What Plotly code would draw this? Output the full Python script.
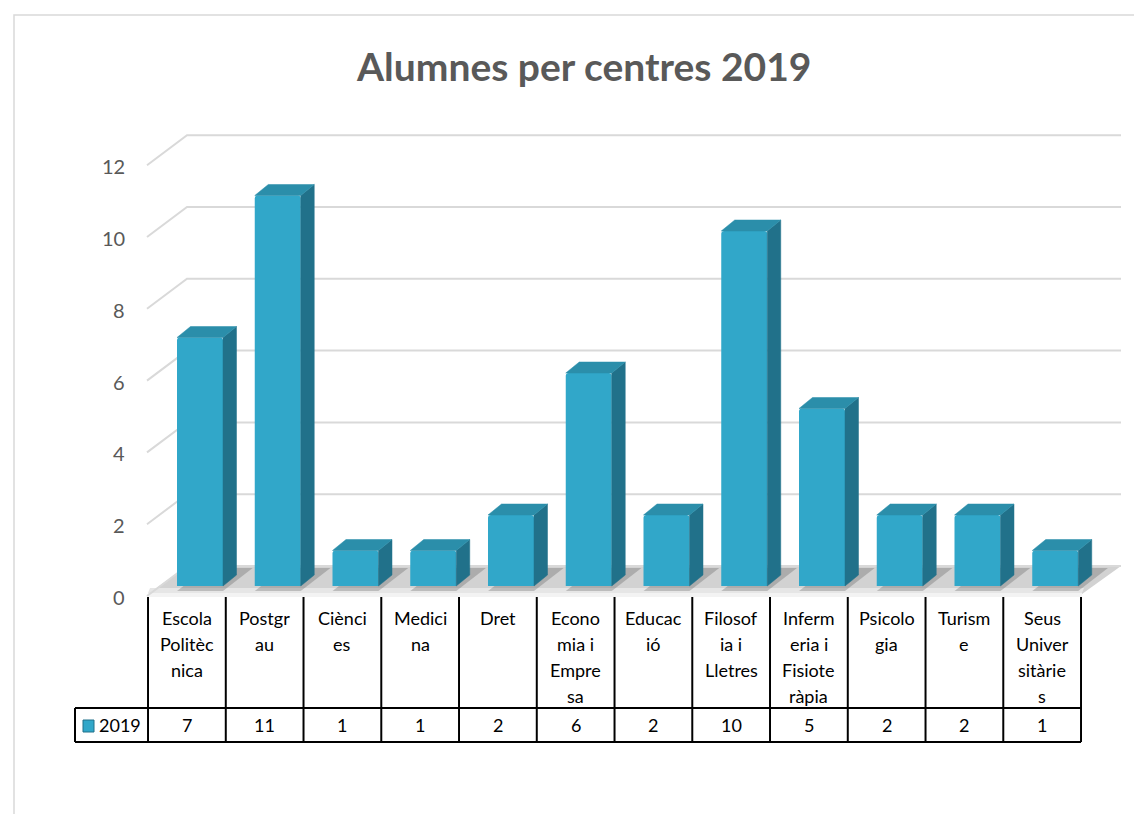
import plotly.graph_objects as go

# data
categories = ["Escola Politècnica", "Postgrau", "Ciències", "Medicina", "Dret",
              "Economia i Empresa", "Educació", "Filosofia i Lletres",
              "Infermeria i Fisioteràpia", "Psicologia", "Turisme", "Seus Universitàries"]
tick_labels = ["Escola<br>Politèc<br>nica", "Postgr<br>au", "Ciènci<br>es", "Medici<br>na", "Dret",
               "Econo<br>mia i<br>Empre<br>sa", "Educac<br>ió", "Filosof<br>ia i<br>Lletres",
               "Inferm<br>eria i<br>Fisiote<br>ràpia", "Psicolo<br>gia", "Turism<br>e",
               "Seus<br>Univer<br>sitàrie<br>s"]
values_2019 = [7, 11, 1, 1, 2, 6, 2, 10, 5, 2, 2, 1]
series_name = "2019"
y_ticks = [0, 2, 4, 6, 8, 10, 12]
title = "Alumnes per centres 2019"

W, H = 1142, 814
PAGE = 8             # browser body margin
FONT = "Lato"

# screen pixel -> data helpers (whole figure is one plot area)
PXU = 77.75          # px per category
X0 = 186.9           # pixel of category 0 centre
PYU = 35.5           # px per unit
Y0 = 586.0           # pixel of value 0


def dx(p):
    return (p - X0) / PXU


def dy(p):
    return (Y0 - p) / PYU


n = len(categories)
xs = list(range(n))
off = dx(200)          # bar shifted back in depth
bw = 46 / PXU
ddx = 13.5 / PXU
ddy = 11 / PYU

front = "#31a7c9"
side = "#21718a"
top = "#2b8eaa"

fig = go.Figure()

fig.add_trace(go.Bar(x=[x + off for x in xs], y=values_2019, width=bw,
                     marker=dict(color=front, line=dict(width=0), cornerradius=3),
                     name=series_name, hoverinfo="skip"))

# 3D side and top faces
sx, sy, tx, ty = [], [], [], []
for x, v in zip(xs, values_2019):
    l, r = x + off - bw / 2, x + off + bw / 2
    sx += [r, r + ddx, r + ddx, r, r, None]
    sy += [0, ddy, v + ddy, v, 0, None]
    tx += [l, l + ddx, r + ddx, r, l, None]
    ty += [v, v + ddy, v + ddy, v, v, None]
fig.add_trace(go.Scatter(x=sx, y=sy, fill="toself", fillcolor=side, mode="lines",
                         line=dict(width=0.5, color=side), hoverinfo="skip", showlegend=False))
fig.add_trace(go.Scatter(x=tx, y=ty, fill="toself", fillcolor=top, mode="lines",
                         line=dict(width=0.5, color=top), hoverinfo="skip", showlegend=False))

shapes = []
annotations = []

# floor
fl, fr = dx(148), dx(1082)
bl, br = dx(187), dx(1121)
shapes.append(dict(type="path", xref="x", yref="y", layer="below",
                   path=f"M{fl},{dy(594)} L{bl},{dy(566)} L{br},{dy(566)} L{fr},{dy(594)} Z",
                   fillcolor="#d2d2d2", line=dict(width=0)))
shapes.append(dict(type="path", xref="x", yref="y", layer="below",
                   path=f"M{dx(150)},{dy(588)} L{dx(1084)},{dy(588)} L{fr},{dy(593)} L{fl},{dy(593)} Z",
                   fillcolor="#e6e6e6", line=dict(width=0)))
shapes.append(dict(type="path", xref="x", yref="y", layer="below",
                   path=f"M{fl},{dy(593)} L{fr},{dy(593)} L{fr},{dy(597)} L{fl},{dy(597)} Z",
                   fillcolor="#f3f3f3", line=dict(width=0)))
# bar shadows on floor
for x in xs:
    r = x + off + bw / 2
    l = x + off - bw / 2
    shapes.append(dict(type="path", xref="x", yref="y", layer="below",
                       path=f"M{l},{dy(591)} L{r},{dy(591)} L{r + 2.2 * ddx},{dy(568)} L{l + 2.2 * ddx},{dy(568)} Z",
                       fillcolor="rgba(0,0,0,0.18)", line=dict(width=0)))

# gridlines (front edge -> back wall -> right)
for t in y_ticks:
    yf = dy(596 - 35.9 * t)
    yb = dy(566 - 35.9 * t)
    shapes.append(dict(type="path", xref="x", yref="y", layer="below",
                       path=f"M{dx(147)},{yf} L{dx(187)},{yb} L{dx(1121)},{yb}",
                       line=dict(color="#d9d9d9", width=2)))
    annotations.append(dict(x=dx(127), y=dy(597 - 35.9 * t), xref="x", yref="y",
                            text=str(t), showarrow=False, xanchor="right",
                            font=dict(family=FONT, size=20, color="#595959")))

# data table
edges = [x - 0.5 for x in xs] + [xs[-1] + 0.5]
for e in edges:
    shapes.append(dict(type="line", xref="x", yref="y", x0=e, x1=e, y0=dy(597), y1=dy(742),
                       line=dict(color="black", width=2)))
for p in (708, 742):
    shapes.append(dict(type="line", xref="x", yref="y", x0=dx(75), x1=edges[-1], y0=dy(p), y1=dy(p),
                       line=dict(color="black", width=2)))
shapes.append(dict(type="line", xref="x", yref="y", x0=dx(75), x1=dx(75), y0=dy(708), y1=dy(742),
                   line=dict(color="black", width=2)))

for x, lab, v in zip(xs, tick_labels, values_2019):
    for k, part in enumerate(lab.split("<br>")):
        annotations.append(dict(x=x, y=dy(618 + 26 * k), xref="x", yref="y", text=part,
                                showarrow=False, font=dict(family=FONT, size=18, color="#000000")))
    annotations.append(dict(x=x, y=dy(725), xref="x", yref="y", text=str(v), showarrow=False,
                            font=dict(family=FONT, size=18, color="#000000")))

# legend key in table
shapes.append(dict(type="rect", xref="x", yref="y", x0=dx(83), x1=dx(94), y0=dy(732), y1=dy(720),
                   fillcolor=front, line=dict(color=side, width=1)))
annotations.append(dict(x=dx(97), y=dy(725), xref="x", yref="y", text=series_name, showarrow=False,
                        xanchor="left", font=dict(family=FONT, size=18, color="#000000")))

# chart frame
shapes.append(dict(type="path", xref="paper", yref="paper",
                   path=f"M{(14 - PAGE) / W},0 L{(14 - PAGE) / W},{1 - (15 - PAGE) / H} L1,{1 - (15 - PAGE) / H}",
                   line=dict(color="#d9d9d9", width=1.5)))

annotations.append(dict(x=dx(583), y=dy(66), xref="x", yref="y", text=f"<b>{title}</b>",
                        showarrow=False, font=dict(family=FONT, size=39, color="#595959")))

fig.update_layout(
    width=W, height=H,
    margin=dict(l=0, r=0, t=0, b=0),
    paper_bgcolor="white", plot_bgcolor="white",
    showlegend=False,
    xaxis=dict(range=[dx(PAGE), dx(W + PAGE)], visible=False, fixedrange=True),
    yaxis=dict(range=[dy(H + PAGE), dy(PAGE)], visible=False, fixedrange=True),
    shapes=shapes, annotations=annotations,
)

fig.write_html("out.html")
